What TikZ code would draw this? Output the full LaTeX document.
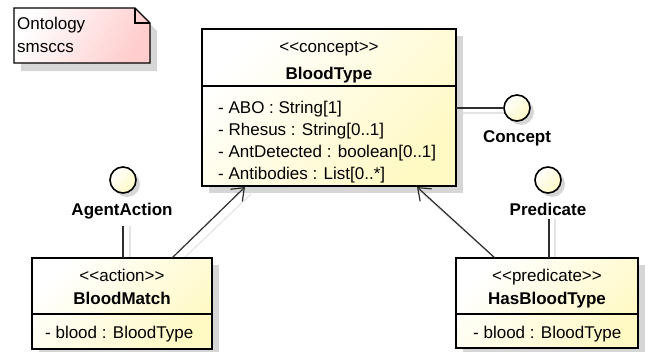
\documentclass[tikz,border=0pt]{standalone}
\usepackage{fontspec}
\setmainfont{Liberation Sans}
\usetikzlibrary{arrows.meta,shadows,backgrounds}
\definecolor{uy}{RGB}{255,249,196}
\definecolor{upink}{RGB}{255,205,205}
\definecolor{shd}{RGB}{214,214,214}
\definecolor{cshd}{RGB}{228,228,228}
\definecolor{lnk}{RGB}{45,45,45}
\tikzset{
  classbox/.style={rectangle, draw=black, line width=1.7pt, inner sep=0pt, outer sep=0pt,
    top color=white, bottom color=uy, shading angle=45,
    drop shadow={shadow xshift=7pt, shadow yshift=-7pt, fill=shd, opacity=1}},
  iface/.style={circle, draw=black, line width=1.6pt, minimum size=26pt, inner sep=0pt, outer sep=0pt,
    top color=white, bottom color=uy, shading angle=45,
    drop shadow={shadow xshift=4pt, shadow yshift=-4pt, fill=shd, opacity=1}},
  txt/.style={inner sep=0pt, font=\fontsize{17}{20}\selectfont},
  btxt/.style={inner sep=0pt, font=\fontsize{17}{20}\selectfont\bfseries},
  sepline/.style={draw=black, line width=1.2pt},
  conn/.style={draw=lnk, line width=1.2pt},
  cshadow/.style={draw=cshd, line width=1.2pt},
  arr/.style={conn, -{Straight Barb[length=11pt,width=17pt,line width=1.2pt]}},
}
\begin{document}
\begin{tikzpicture}[x=1pt,y=-1pt]
\useasboundingbox (0,0) rectangle (645,351);

% ---------- note ----------
\node[inner sep=0pt, outer sep=0pt, minimum width=136pt, minimum height=55pt] (note) at (82,35.5) {};
\fill[shd] ([xshift=7pt,yshift=-8pt]note.north west) -- ([xshift=-8pt,yshift=-8pt]note.north east)
  -- ([xshift=7pt,yshift=-23pt]note.north east) -- ([xshift=7pt,yshift=-8pt]note.south east)
  -- ([xshift=7pt,yshift=-8pt]note.south west) -- cycle;
\path[draw=black, line width=1.4pt, top color=white, bottom color=upink, shading angle=60]
  (note.north west) -- ([xshift=-15pt]note.north east) -- ([yshift=-15pt]note.north east)
  -- (note.south east) -- (note.south west) -- cycle;
\draw[line width=1.2pt] ([xshift=-15pt]note.north east) -- ([xshift=-15pt,yshift=-15pt]note.north east)
  -- ([yshift=-15pt]note.north east);
\node[txt, anchor=base west] (note-1) at (17,29) {Ontology};
\node[txt, anchor=base west] (note-2) at (17,52) {smsccs};

% ---------- class boxes ----------
\node[classbox, minimum width=254pt, minimum height=157pt] (bt) at (329,107.5) {};
\node[classbox, minimum width=180pt, minimum height=91pt] (bm) at (122,303.5) {};
\node[classbox, minimum width=182pt, minimum height=90pt] (hb) at (547,303) {};

\draw[sepline] (bt.west |- 0,86) -- (bt.east |- 0,86);
\draw[sepline] (bm.west |- 0,314) -- (bm.east |- 0,314);
\draw[sepline] (hb.west |- 0,314) -- (hb.east |- 0,314);

\node[txt, anchor=base] (bt-st) at (329,52) {<\kern0pt<concept>\kern0pt>};
\node[btxt, anchor=base] (bt-nm) at (329,79) {BloodType};
\node[txt, anchor=base west] (bt-a1) at (218,113) {- ABO : String[1]};
\node[txt, anchor=base west] (bt-a2) at (218,135) {- Rhesus : String[0..1]};
\node[txt, anchor=base west] (bt-a3) at (218,157) {- AntDetected : boolean[0..1]};
\node[txt, anchor=base west] (bt-a4) at (218,179) {- Antibodies : List[0..*]};

\node[txt, anchor=base] (bm-st) at (122,281) {<\kern0pt<action>\kern0pt>};
\node[btxt, anchor=base] (bm-nm) at (122,304) {BloodMatch};
\node[txt, anchor=base west] (bm-a1) at (45,338) {- blood : BloodType};

\node[txt, anchor=base] (hb-st) at (547,281) {<\kern0pt<predicate>\kern0pt>};
\node[btxt, anchor=base] (hb-nm) at (547,304) {HasBloodType};
\node[txt, anchor=base west] (hb-a1) at (473,338) {- blood : BloodType};

% ---------- interfaces ----------
\node[iface] (cc) at (517,108) {};
\node[btxt, anchor=base] (cc-l) at (517,142) {Concept};
\node[iface] (pr) at (548,180) {};
\node[btxt, anchor=base] (pr-l) at (548,215) {Predicate};
\node[iface] (aa) at (123,180) {};
\node[btxt, anchor=base] (aa-l) at (122,215) {AgentAction};

% ---------- connector shadows ----------
\begin{pgfonlayer}{background}
\draw[cshadow] ([yshift=-5pt]bt.east |- cc.west) -- ([yshift=-5pt]cc.west);
\draw[cshadow] ([xshift=7pt]aa |- aa-l.south) ++(0,7) -- ([xshift=7pt]aa |- bm.north);
\draw[cshadow] ([xshift=7pt]pr |- pr-l.south) ++(0,4) -- ([xshift=7pt]pr |- hb.north);
\draw[cshadow] ([xshift=56pt,yshift=-6pt]bm.north) -- ([xshift=-78pt,yshift=-8pt]bt.south);
\draw[cshadow] ([xshift=-46pt,yshift=-6pt]hb.north) -- ([xshift=94pt,yshift=-8pt]bt.south);
\end{pgfonlayer}

% ---------- connectors ----------
\draw[conn] (bt.east |- cc.west) -- (cc.west);
\draw[conn] (aa |- aa-l.south) ++(0,7) -- (aa |- bm.north);
\draw[conn] ([xshift=1pt]pr |- pr-l.south) ++(0,4) -- ([xshift=1pt]pr |- hb.north);
\draw[arr] ([xshift=50pt]bm.north) -- ([xshift=-84pt,yshift=-1pt]bt.south);
\draw[arr] ([xshift=-52pt]hb.north) -- ([xshift=88pt,yshift=-1pt]bt.south);
\end{tikzpicture}
\end{document}
